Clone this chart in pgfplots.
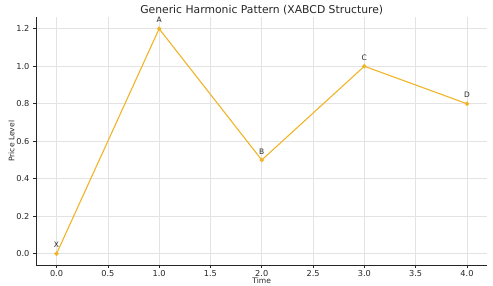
\documentclass[border=0pt]{standalone}
\usepackage{pgfplots}
\pgfplotsset{compat=1.18}
\usepackage{fontspec}
\setmainfont{DejaVu Sans}
\definecolor{linegold}{HTML}{F0B429}
\definecolor{spine}{HTML}{262626}
\begin{document}
\begin{tikzpicture}[x=1pt,y=1pt]
\path[use as bounding box] (-36,-21) rectangle (457,265);
\begin{axis}[
  at={(0,0)}, anchor=south west,
  scale only axis, width=451.5pt, height=247.5pt,
  xmin=-0.2, xmax=4.2, ymin=-0.06, ymax=1.26,
  axis lines=left, axis line style={-, spine, line width=0.7pt},
  xtick={0,0.5,...,4}, ytick={0,0.2,...,1.2},
  xticklabels={0.0,0.5,1.0,1.5,2.0,2.5,3.0,3.5,4.0},
  yticklabels={0.0,0.2,0.4,0.6,0.8,1.0,1.2},
  tick align=outside, major tick length=3pt,
  tick style={spine, line width=0.6pt},
  grid=major, grid style={gray!22, line width=0.5pt},
  ticklabel style={font=\fontsize{8.2}{9}\selectfont, text=spine},
  xticklabel style={yshift=1pt},
  /pgf/number format/assume math mode=true,
  title={Generic Harmonic Pattern (XABCD Structure)},
  title style={font=\fontsize{10.8}{12}\selectfont, text=spine, at={(0.5,1)}, anchor=south, yshift=-7pt},
  xlabel={Time}, ylabel={Price Level},
  label style={font=\fontsize{7.6}{8}\selectfont, text=spine},
  xlabel style={yshift=5.5pt},
  ylabel style={yshift=-5pt},
  clip=false,
]
\addplot[linegold, line width=1.1pt, mark=*, mark size=1.6pt, mark options={fill=linegold, draw=linegold},
  nodes near coords, point meta=explicit symbolic,
  nodes near coords style={font=\fontsize{7.5}{8}\selectfont, text=spine, anchor=south, yshift=2pt}]
  coordinates {(0,0)[X] (1,1.2)[A] (2,0.5)[B] (3,1.0)[C] (4,0.8)[D]};
\end{axis}
\end{tikzpicture}
\end{document}
